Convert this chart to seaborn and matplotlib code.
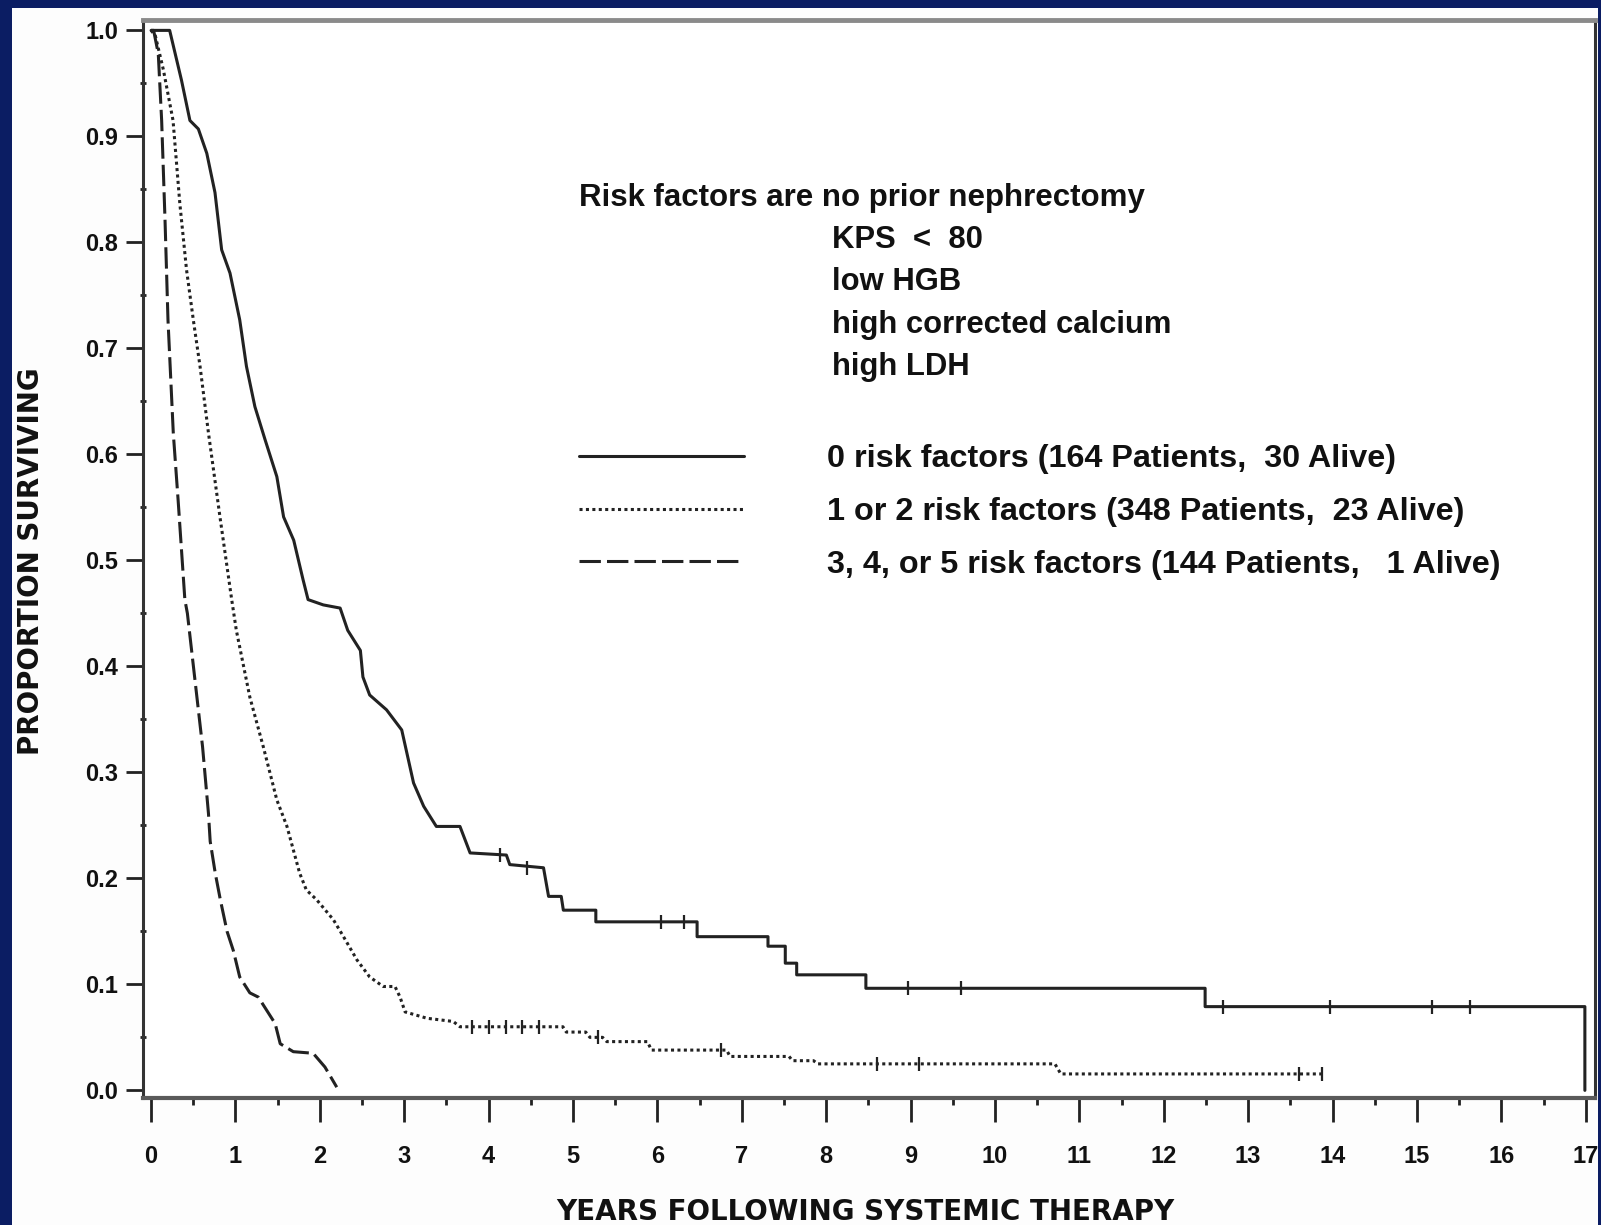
import numpy as np
import pandas as pd
import matplotlib
matplotlib.use("Agg")
import matplotlib.pyplot as plt
import seaborn as sns
from matplotlib import font_manager
from matplotlib.patches import Rectangle
from matplotlib.lines import Line2D
from matplotlib.ticker import MultipleLocator, FixedLocator

# ---------------- data ----------------
solid_x = [0, 0.22, 0.36, 0.46, 0.56, 0.66, 0.757, 0.836, 0.935, 1.05, 1.13, 1.23, 1.35,
           1.49, 1.57, 1.69, 1.80, 1.86, 2.04, 2.24, 2.33, 2.48, 2.51, 2.59, 2.79, 2.97,
           3.11, 3.23, 3.38, 3.66, 3.78, 4.21, 4.25, 4.65, 4.71, 4.86, 4.885, 5.27, 5.27,
           6.47, 6.47, 7.31, 7.31, 7.515, 7.515, 7.65, 7.65, 8.47, 8.47, 12.49, 12.49,
           16.99, 16.99]
solid_y = [1.0, 1.0, 0.953, 0.915, 0.907, 0.884, 0.847, 0.793, 0.771, 0.727, 0.683, 0.645,
           0.614, 0.579, 0.541, 0.519, 0.482, 0.463, 0.458, 0.455, 0.434, 0.415, 0.39,
           0.373, 0.359, 0.34, 0.29, 0.268, 0.249, 0.249, 0.224, 0.222, 0.213, 0.21, 0.183,
           0.183, 0.170, 0.170, 0.159, 0.159, 0.145, 0.145, 0.136, 0.136, 0.12, 0.12, 0.109,
           0.109, 0.0963, 0.0963, 0.079, 0.079, 0.0]

dotted_x = [0, 0.05, 0.145, 0.26, 0.34, 0.42, 0.5, 0.58, 0.68, 0.816, 0.955, 1.01, 1.17,
            1.33, 1.49, 1.61, 1.76, 1.84, 1.96, 2.16, 2.28, 2.44, 2.59, 2.75, 2.89, 2.95,
            3.01, 3.27, 3.58, 3.66, 4.88, 4.92, 5.15, 5.2, 5.35, 5.4, 5.88, 5.93, 6.82,
            6.86, 7.56, 7.6, 7.85, 7.9, 10.71, 10.78, 13.87]
dotted_y = [1.0, 0.995, 0.963, 0.915, 0.837, 0.774, 0.727, 0.683, 0.62, 0.541, 0.463, 0.434,
            0.371, 0.324, 0.274, 0.249, 0.205, 0.189, 0.18, 0.161, 0.145, 0.123, 0.107,
            0.098, 0.098, 0.088, 0.074, 0.068, 0.065, 0.060, 0.060, 0.055, 0.055, 0.050,
            0.050, 0.046, 0.046, 0.038, 0.038, 0.032, 0.032, 0.028, 0.028, 0.025, 0.025,
            0.0155, 0.0155]

dashed_x = [0, 0.03, 0.085, 0.125, 0.165, 0.2, 0.263, 0.32, 0.4, 0.43, 0.52, 0.61, 0.68,
            0.70, 0.76, 0.82, 0.9, 0.974, 1.05, 1.17, 1.27, 1.47, 1.53, 1.685, 1.92, 2.06,
            2.2]
dashed_y = [1.0, 1.0, 0.978, 0.915, 0.821, 0.727, 0.62, 0.557, 0.463, 0.45, 0.387, 0.324,
            0.261, 0.235, 0.205, 0.18, 0.15, 0.132, 0.107, 0.092, 0.088, 0.063, 0.044,
            0.0365, 0.035, 0.022, 0.003]

solid_cens_x = [4.13, 4.45, 6.04, 6.31, 8.97, 9.6, 12.7, 13.97, 15.18, 15.63]
solid_cens_y = [0.222, 0.21, 0.159, 0.159, 0.0963, 0.0963, 0.079, 0.079, 0.079, 0.079]
dotted_cens_x = [3.8, 4.0, 4.2, 4.4, 4.6, 5.3, 6.75, 8.6, 9.1, 13.6, 13.87]
dotted_cens_y = [0.060, 0.060, 0.060, 0.060, 0.060, 0.050, 0.038, 0.025, 0.025, 0.0155, 0.0155]

group_labels = ["0 risk factors (164 Patients,  30 Alive)",
                "1 or 2 risk factors (348 Patients,  23 Alive)",
                "3, 4, or 5 risk factors (144 Patients,   1 Alive)"]
header_text = "Risk factors are no prior nephrectomy"
factor_lines = ["KPS  <  80", "low HGB", "high corrected calcium", "high LDH"]
x_ticks = list(range(0, 18))
y_ticks = [0.0, 0.1, 0.2, 0.3, 0.4, 0.5, 0.6, 0.7, 0.8, 0.9, 1.0]
x_label = "YEARS FOLLOWING SYSTEMIC THERAPY"
y_label = "PROPORTION SURVIVING"

# ---------------- style ----------------
sns.set_theme(style="white")
names = {f.name for f in font_manager.fontManager.ttflist}
narrow = "Liberation Sans Narrow" if "Liberation Sans Narrow" in names else "Liberation Sans"
plt.rcParams["font.family"] = [narrow, "DejaVu Sans"]

INK = "#222222"
W, H = 1601, 1225
fig = plt.figure(figsize=(W / 100, H / 100), dpi=100)
fig.patch.set_facecolor("#0b1d63")
fig.patches.append(Rectangle((12 / W, 0), (1598 - 12) / W, (H - 8) / H,
                             transform=fig.transFigure, facecolor="#fdfdfd",
                             edgecolor="none", zorder=-5))

ax = fig.add_axes([143 / W, (H - 1098) / H, (1595 - 143) / W, (1098 - 20) / H])
ax.set_zorder(2)
ax.set_facecolor("white")

styles = ["-", (0, (1, 1.1)), (0, (7, 2))]
series = [(solid_x, solid_y), (dotted_x, dotted_y), (dashed_x, dashed_y)]
handles = []
for (xs, ys), lab, ls in zip(series, group_labels, styles):
    df = pd.DataFrame({"x": xs, "y": ys})
    sns.lineplot(data=df, x="x", y="y", sort=False, estimator=None, ax=ax,
                 color=INK, linewidth=2.2, linestyle=ls)
    handles.append(Line2D([], [], color=INK, linewidth=2.2, linestyle=ls))

cens = pd.DataFrame({"x": solid_cens_x + dotted_cens_x,
                     "y": solid_cens_y + dotted_cens_y})
sns.scatterplot(data=cens, x="x", y="y", marker="|", s=90, color=INK,
                linewidth=1.6, ax=ax, zorder=3)

ax.set_xlim(-0.096, 17.11)
ax.set_ylim(-0.0072, 1.0098)

ax.xaxis.set_major_locator(FixedLocator(x_ticks))
ax.xaxis.set_minor_locator(MultipleLocator(0.5))
ax.yaxis.set_major_locator(FixedLocator(y_ticks))
ax.yaxis.set_minor_locator(MultipleLocator(0.05))
ax.set_yticklabels([f"{v:.1f}" for v in y_ticks])
ax.set_xticklabels([str(v) for v in x_ticks])

ax.tick_params(axis="y", which="major", direction="out", length=12, width=2,
               color=INK, pad=6, labelsize=17, labelcolor="#111111", left=True)
ax.tick_params(axis="y", which="minor", direction="inout", length=5, width=2,
               color=INK, left=True)
ax.tick_params(axis="x", which="major", direction="out", length=17, width=2,
               color=INK, pad=17, labelsize=17, labelcolor="#111111", bottom=True)
ax.tick_params(axis="x", which="minor", direction="out", length=5, width=2,
               color=INK, bottom=True)
for lbl in ax.get_xticklabels() + ax.get_yticklabels():
    lbl.set_fontweight("bold")

for side, col, lw in [("top", "#8a8a8a", 3.5), ("bottom", "#5a5a5a", 3.0),
                      ("left", "#333333", 2.2), ("right", "#333333", 2.2)]:
    ax.spines[side].set_visible(True)
    ax.spines[side].set_color(col)
    ax.spines[side].set_linewidth(lw)

ax.set_xlabel(x_label, fontsize=20, fontweight="bold", color="#111111",
              family=["DejaVu Sans"])
ax.set_ylabel(y_label, fontsize=20, fontweight="bold", color="#111111",
              family=["DejaVu Sans"])
ax.xaxis.set_label_coords((865 - 143) / 1452, (1098 - 1212) / 1078)
ax.xaxis.label.set_va("center")
ax.yaxis.set_label_coords((31 - 143) / 1452, (1098 - 561) / 1078)
ax.yaxis.label.set_va("center")

# header text block
fig.text(579 / W, 1 - 198 / H, header_text, fontsize=22.5, fontweight="bold",
         color="#111111", ha="left", va="center", zorder=5)
for i, t in enumerate(factor_lines):
    fig.text(832 / W, 1 - (240 + i * 42.3) / H, t, fontsize=22.3, fontweight="bold",
             color="#111111", ha="left", va="center", zorder=5)

leg = ax.legend(handles, group_labels, loc="upper left",
                bbox_to_anchor=(579 / W, 1 - 444.5 / H), bbox_transform=fig.transFigure,
                frameon=False, prop={"size": 23.3, "weight": "bold", "family": [narrow]},
                handlelength=5.1, handletextpad=2.55, labelspacing=0.7,
                borderpad=0, borderaxespad=0)
for t in leg.get_texts():
    t.set_color("#111111")

fig.savefig("out.png", dpi=100, facecolor=fig.get_facecolor())
